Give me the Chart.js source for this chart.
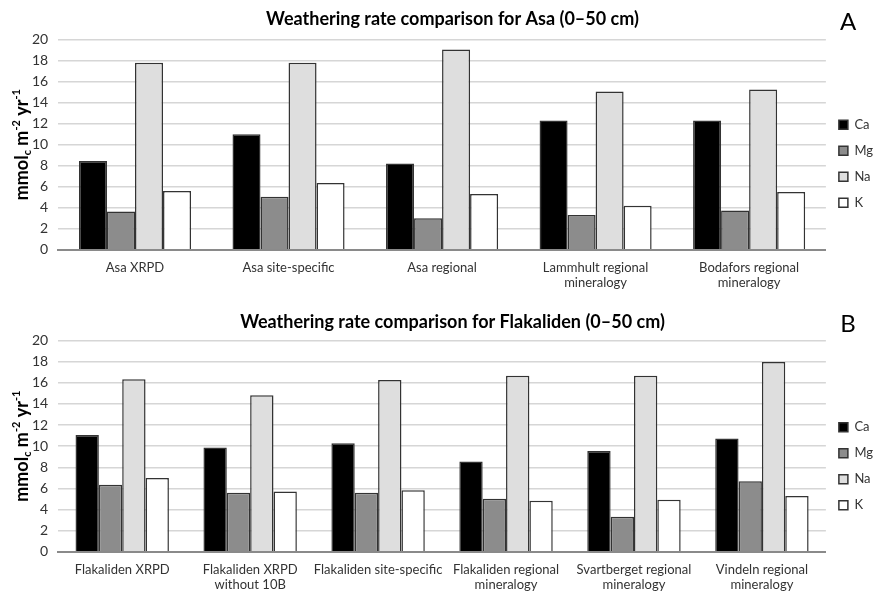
<!DOCTYPE html>
<html>
<head>
<meta charset="utf-8">
<script src="https://cdn.jsdelivr.net/npm/chart.js"></script>
<style>
  body { margin: 0; background: #fff; }
  canvas { display: block; }
</style>
</head>
<body>
<canvas id="chartA" width="877" height="291"></canvas>
<canvas id="chartB" width="877" height="303"></canvas>
<script>
// series shared by both panels
const seriesNames = ['Ca', 'Mg', 'Na', 'K'];
const seriesColors = ['#000000', '#8c8c8c', '#dedede', '#ffffff'];
const yTicks = [0, 2, 4, 6, 8, 10, 12, 14, 16, 18, 20];

// panel A - Asa
const categoriesA = ['Asa XRPD', 'Asa site-specific', 'Asa regional',
  ['Lammhult regional', 'mineralogy'], ['Bodafors regional', 'mineralogy']];
const caA = [8.45, 11.0, 8.2, 12.3, 12.3];
const mgA = [3.65, 5.05, 3.0, 3.3, 3.75];
const naA = [17.8, 17.8, 19.05, 15.05, 15.25];
const kA = [5.6, 6.35, 5.3, 4.2, 5.5];

// panel B - Flakaliden
const categoriesB = ['Flakaliden XRPD', ['Flakaliden XRPD', 'without 10B'], 'Flakaliden site-specific',
  ['Flakaliden regional', 'mineralogy'], ['Svartberget regional', 'mineralogy'], ['Vindeln regional', 'mineralogy']];
const caB = [11.05, 9.87, 10.28, 8.56, 9.54, 10.72];
const mgB = [6.36, 5.6, 5.6, 5.03, 3.31, 6.68];
const naB = [16.35, 14.83, 16.26, 16.67, 16.67, 17.98];
const kB = [7.0, 5.7, 5.82, 4.84, 4.93, 5.28];

const FONT = 'Lato, "Open Sans", sans-serif';

// y axis title with sub/superscripts + panel letter
const decoPlugin = {
  id: 'deco',
  afterDraw(chart, args, opts) {
    const ctx = chart.ctx;
    const area = chart.chartArea;
    const parts = [
      { t: 'mmol', size: 18, dy: 0 },
      { t: 'c', size: 11, dy: 5 },
      { t: ' m', size: 18, dy: 0 },
      { t: '-2', size: 11, dy: -6 },
      { t: ' yr', size: 18, dy: 0 },
      { t: '-1', size: 11, dy: -6 }
    ];
    ctx.save();
    let total = 0;
    parts.forEach(p => {
      ctx.font = 'bold ' + p.size + 'px ' + FONT;
      p.w = ctx.measureText(p.t).width;
      total += p.w;
    });
    ctx.translate(opts.titleX, (area.top + area.bottom) / 2);
    ctx.rotate(-Math.PI / 2);
    ctx.fillStyle = '#000';
    ctx.textBaseline = 'middle';
    let x = -total / 2;
    parts.forEach(p => {
      ctx.font = 'bold ' + p.size + 'px ' + FONT;
      ctx.fillText(p.t, x, p.dy);
      x += p.w;
    });
    ctx.restore();

    ctx.save();
    ctx.font = '24px ' + FONT;
    ctx.fillStyle = '#000';
    ctx.textAlign = 'center';
    ctx.textBaseline = 'middle';
    ctx.fillText(opts.letter, opts.letterX, opts.letterY);
    ctx.restore();
  }
};

function makeChart(id, title, labels, ca, mg, na, k, letter, pad, titleGap, letterY) {
  const values = [ca, mg, na, k];
  return new Chart(document.getElementById(id), {
    type: 'bar',
    data: {
      labels: labels,
      datasets: seriesNames.map((name, i) => ({
        label: name,
        data: values[i],
        backgroundColor: seriesColors[i],
        borderColor: '#333333',
        borderWidth: 1.5,
        categoryPercentage: 0.73,
        barPercentage: 1.0
      }))
    },
    options: {
      responsive: false,
      animation: false,
      layout: { padding: { left: 22, right: -6, top: pad.top, bottom: pad.bottom } },
      plugins: {
        title: {
          display: true,
          text: title,
          font: { family: FONT, size: 18, weight: 'bold' },
          color: '#000',
          padding: { top: 0, bottom: titleGap }
        },
        legend: {
          position: 'right',
          title: {
            display: true,
            text: '',
            font: { size: 12 },
            padding: { top: 2, bottom: 2 }
          },
          labels: {
            boxWidth: 9,
            boxHeight: 9,
            padding: 13,
            color: '#333',
            font: { family: FONT, size: 13 }
          }
        },
        tooltip: { enabled: false },
        deco: { titleX: 22, letter: letter, letterX: 848, letterY: letterY }
      },
      scales: {
        x: {
          grid: { display: false, drawTicks: false },
          border: { color: '#8a8a8a', width: 2 },
          ticks: {
            color: '#333',
            font: { family: FONT, size: 13 },
            padding: 10,
            maxRotation: 0,
            autoSkip: false
          }
        },
        y: {
          min: 0,
          max: 20,
          afterBuildTicks(axis) { axis.ticks = yTicks.map(v => ({ value: v })); },
          grid: { color: '#d6d6d6', lineWidth: 1.5, drawTicks: false },
          border: { display: false },
          ticks: {
            color: '#333',
            font: { family: FONT, size: 14 },
            padding: 10,
            autoSkip: false
          }
        }
      }
    },
    plugins: [decoPlugin]
  });
}

makeChart('chartA', 'Weathering rate comparison for Asa (0\u201350 cm)',
  categoriesA, caA, mgA, naA, kA, 'A', { top: 8, bottom: -10 }, 10, 22);
makeChart('chartB', 'Weathering rate comparison for Flakaliden (0\u201350 cm)',
  categoriesB, caB, mgB, naB, kB, 'B', { top: 20, bottom: -9 }, 8, 33);
</script>
</body>
</html>
